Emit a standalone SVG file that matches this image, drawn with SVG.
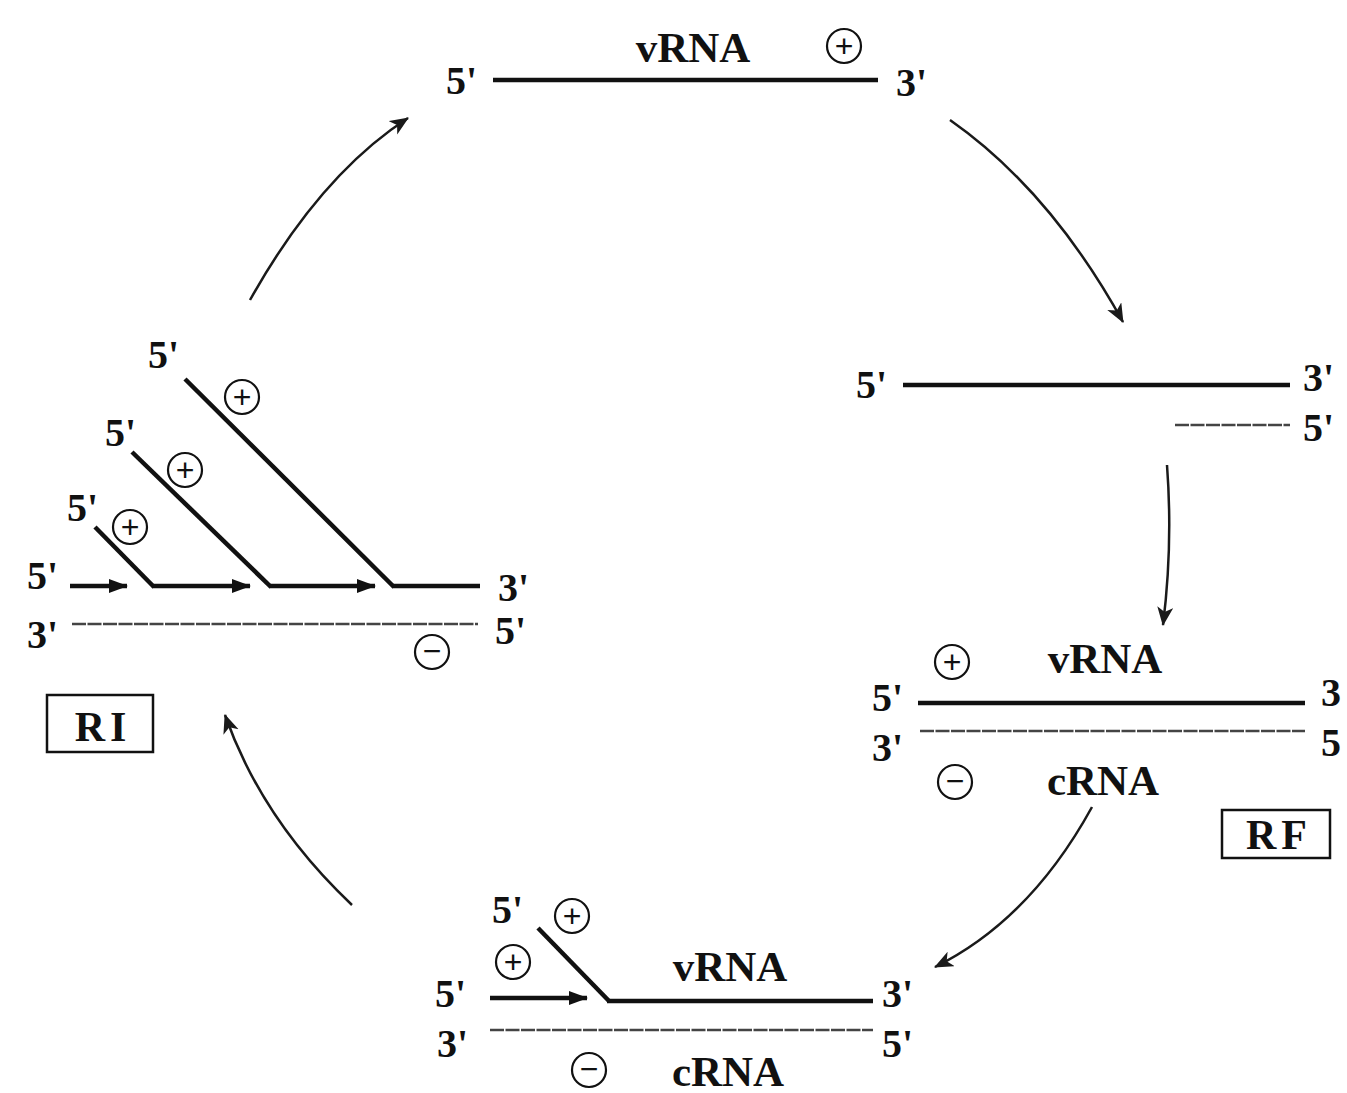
<svg xmlns="http://www.w3.org/2000/svg" width="1347" height="1093" viewBox="0 0 1347 1093">
  <style>
    .lbl { font-family: "Liberation Serif", "Times New Roman", serif; font-weight: bold; font-size: 40px; fill: #111; }
    .name { font-family: "Liberation Serif", "Times New Roman", serif; font-weight: bold; font-size: 43px; fill: #111; text-anchor: middle; }
    .tag { font-family: "Liberation Serif", "Times New Roman", serif; font-weight: bold; font-size: 42px; fill: #111; text-anchor: middle; letter-spacing: 5px; }
    .sign { font-family: "Liberation Sans", Arial, sans-serif; font-size: 32px; fill: #111; text-anchor: middle; }
    .strand { stroke: #111; stroke-width: 4.5; fill: none; stroke-linecap: butt; }
    .comp { stroke: #444; stroke-width: 2.4; fill: none; stroke-dasharray: 14 1.5; }
    .ring { fill: none; stroke: #111; stroke-width: 2.2; }
    .box { fill: none; stroke: #111; stroke-width: 2.5; }
    .flow { stroke: #1a1a1a; stroke-width: 2.5; fill: none; }
  </style>
  <defs>
    <marker id="head" markerUnits="userSpaceOnUse" markerWidth="22" markerHeight="18" refX="18" refY="8" orient="auto">
      <path d="M0,0 L19,8 L0,16 L5,8 Z" fill="#1a1a1a"/>
    </marker>
    <marker id="push" markerUnits="userSpaceOnUse" markerWidth="22" markerHeight="16" refX="18" refY="7" orient="auto">
      <path d="M0,0 L19,7 L0,14 Z" fill="#111"/>
    </marker>
  </defs>
  <rect width="1347" height="1093" fill="#fff"/>

  <!-- cycle arrows -->
  <g id="connectors">
    <path class="flow" d="M250,300 Q320,175 408,118" marker-end="url(#head)"/>
    <path class="flow" d="M950,120 Q1050,190 1123,322" marker-end="url(#head)"/>
    <path class="flow" d="M1167,465 Q1173,545 1163,625" marker-end="url(#head)"/>
    <path class="flow" d="M1092,807 Q1030,920 935,967" marker-end="url(#head)"/>
    <path class="flow" d="M352,905 Q262,820 225,715" marker-end="url(#head)"/>
  </g>

  <!-- single-stranded vRNA -->
  <g id="vrna-top">
    <text class="lbl" x="446" y="94">5'</text>
    <line class="strand" x1="493" y1="80" x2="878" y2="80"/>
    <text class="name" x="693" y="62">vRNA</text>
    <circle class="ring" cx="844" cy="46" r="17"/>
    <text class="sign" x="844" y="57">+</text>
    <text class="lbl" x="896" y="96">3'</text>
  </g>

  <!-- initiation of complementary strand -->
  <g id="initiation">
    <text class="lbl" x="856" y="398">5'</text>
    <line class="strand" x1="903" y1="385" x2="1290" y2="385"/>
    <text class="lbl" x="1303" y="391">3'</text>
    <line class="comp" x1="1175" y1="425" x2="1290" y2="425"/>
    <text class="lbl" x="1303" y="441">5'</text>
  </g>

  <!-- replicative form -->
  <g id="rf">
    <circle class="ring" cx="952" cy="662" r="17"/>
    <text class="sign" x="952" y="673">+</text>
    <text class="name" x="1105" y="673">vRNA</text>
    <text class="lbl" x="872" y="711">5'</text>
    <line class="strand" x1="918" y1="703" x2="1305" y2="703"/>
    <text class="lbl" x="1321" y="706">3</text>
    <line class="comp" x1="920" y1="731" x2="1305" y2="731"/>
    <text class="lbl" x="872" y="761">3'</text>
    <text class="lbl" x="1321" y="756">5</text>
    <circle class="ring" cx="955" cy="782" r="17"/>
    <text class="sign" x="955" y="792">−</text>
    <text class="name" x="1103" y="795">cRNA</text>
    <rect class="box" x="1222" y="810" width="108" height="48"/>
    <text class="tag" x="1279" y="849">RF</text>
  </g>

  <!-- new plus strand displacing the old one -->
  <g id="displacement">
    <text class="lbl" x="492" y="923">5'</text>
    <circle class="ring" cx="572" cy="916" r="17"/>
    <text class="sign" x="572" y="927">+</text>
    <line class="strand" x1="538" y1="928" x2="609" y2="1001"/>
    <circle class="ring" cx="513" cy="962" r="17"/>
    <text class="sign" x="513" y="973">+</text>
    <text class="lbl" x="435" y="1007">5'</text>
    <line class="strand" x1="490" y1="998" x2="587" y2="998" marker-end="url(#push)"/>
    <line class="strand" x1="607" y1="1001" x2="873" y2="1001"/>
    <text class="name" x="730" y="981">vRNA</text>
    <text class="lbl" x="882" y="1007">3'</text>
    <line class="comp" x1="490" y1="1030" x2="873" y2="1030"/>
    <text class="lbl" x="437" y="1057">3'</text>
    <text class="lbl" x="882" y="1057">5'</text>
    <circle class="ring" cx="589" cy="1070" r="17"/>
    <text class="sign" x="589" y="1080">−</text>
    <text class="name" x="728" y="1086">cRNA</text>
  </g>

  <!-- replicative intermediate -->
  <g id="ri">
    <text class="lbl" x="148" y="368">5'</text>
    <line class="strand" x1="185" y1="379" x2="394" y2="587"/>
    <circle class="ring" cx="242" cy="397" r="17"/>
    <text class="sign" x="242" y="408">+</text>
    <text class="lbl" x="105" y="446">5'</text>
    <line class="strand" x1="132" y1="452" x2="271" y2="587"/>
    <circle class="ring" cx="185" cy="470" r="17"/>
    <text class="sign" x="185" y="481">+</text>
    <text class="lbl" x="67" y="521">5'</text>
    <line class="strand" x1="95" y1="527" x2="154" y2="587"/>
    <circle class="ring" cx="130" cy="527" r="17"/>
    <text class="sign" x="130" y="538">+</text>
    <text class="lbl" x="27" y="589">5'</text>
    <line class="strand" x1="70" y1="586" x2="127" y2="586" marker-end="url(#push)"/>
    <line class="strand" x1="152" y1="586" x2="250" y2="586" marker-end="url(#push)"/>
    <line class="strand" x1="269" y1="586" x2="375" y2="586" marker-end="url(#push)"/>
    <line class="strand" x1="392" y1="586" x2="480" y2="586"/>
    <text class="lbl" x="498" y="601">3'</text>
    <line class="comp" x1="72" y1="624" x2="478" y2="624"/>
    <text class="lbl" x="27" y="648">3'</text>
    <text class="lbl" x="495" y="644">5'</text>
    <circle class="ring" cx="432" cy="652" r="17"/>
    <text class="sign" x="432" y="662">−</text>
    <rect class="box" x="47" y="695" width="106" height="57"/>
    <text class="tag" x="103" y="741">RI</text>
  </g>
</svg>
